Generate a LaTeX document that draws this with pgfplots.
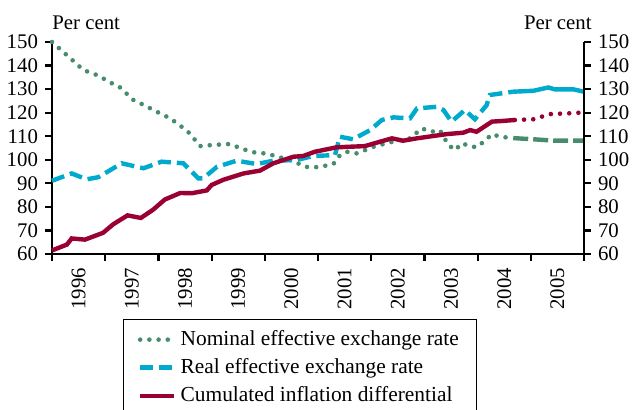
\documentclass[border=0pt]{standalone}
\usepackage{fontspec}
\setmainfont{Liberation Serif}
\usepackage{pgfplots}
\pgfplotsset{compat=1.18}
\definecolor{nomgreen}{RGB}{72,140,110}
\definecolor{realblue}{RGB}{0,170,205}
\definecolor{inflred}{RGB}{155,0,50}

\pgfplotsset{
  base/.style={
    width=266pt, height=106pt, scale only axis,
    xmin=1996, xmax=2006, ymin=60, ymax=150,
    ytick={60,70,...,150},
    tick align=outside,
    major tick length=3.5pt,
    every tick/.style={black, line width=1.1pt},
    axis line style={black, line width=1.3pt},
    tick label style={font=\fontsize{10.4}{12}\selectfont},
    /pgf/number format/assume math mode=true,
  },
  nom/.style={nomgreen, line width=2.3pt, line cap=round, dash pattern=on 0pt off 4.6pt},
  nomf/.style={nomgreen, line width=2.2pt, dash pattern=on 7.5pt off 2.5pt},
  real/.style={realblue, line width=2.2pt, dash pattern=on 6.5pt off 3pt},
  realf/.style={realblue, line width=2.2pt},
  infl/.style={inflred, line width=2.2pt},
  inflf/.style={inflred, line width=2.3pt, line cap=round, dash pattern=on 0pt off 4.6pt},
}

\begin{document}
\begin{tikzpicture}
\useasboundingbox (-26pt,-78pt) rectangle (290pt,127pt);
\begin{axis}[base,
  axis x line*=bottom, axis y line*=left,
  xtick={1996,1997,1998,1999,2000,2001,2002,2003,2004,2005,2006},
  x tick label as interval,
  xticklabels={1996,1997,1998,1999,2000,2001,2002,2003,2004,2005},
  xticklabel style={rotate=90, anchor=east},
  legend cell align=left,
  legend style={at={(rel axis cs:0.134,0)}, anchor=north west, yshift=-32.5pt,
    draw=black, line width=0.6pt, font=\fontsize{10.7}{12}\selectfont, row sep=1pt,
    inner xsep=7pt, inner ysep=3.5pt,
    column 2/.style={nodes={text width=150pt, align=left}}},
  clip=false,
]
% nominal effective exchange rate
\addplot[nom] coordinates {
(1996.00,150.0) (1996.31,143.8) (1996.59,138.1) (1996.90,135.5) (1997.06,133.1)
(1997.25,131.3) (1997.53,125.4) (1997.72,123.3) (1997.97,120.4) (1998.22,117.6)
(1998.41,114.5) (1998.59,111.2) (1998.78,105.8) (1999.03,106.3) (1999.35,106.7)
(1999.53,105.0) (1999.78,103.2) (2000.04,102.6) (2000.29,101.0) (2000.54,99.4)
(2000.76,97.0) (2000.94,96.8) (2001.10,97.3) (2001.29,98.2) (2001.38,101.3)
(2001.54,103.4) (2001.73,102.7) (2002.04,105.5) (2002.35,107.4) (2002.73,109.1)
(2002.95,113.3) (2003.14,111.9) (2003.29,112.6) (2003.45,106.3) (2003.58,104.1)
(2003.70,107.0) (2003.86,105.8) (2003.98,105.3) (2004.14,108.1) (2004.27,110.9)
(2004.42,109.8) (2004.67,109.2)
};
\addlegendentry{Nominal effective exchange rate}
% real effective exchange rate
\addplot[real] coordinates {
(1996.00,91.1) (1996.37,94.2) (1996.65,91.7) (1996.87,92.6) (1997.31,98.5)
(1997.72,96.4) (1998.06,99.2) (1998.47,98.5) (1998.75,92.1) (1998.84,92.1)
(1999.10,97.0) (1999.47,99.6) (1999.85,98.2) (2000.16,99.6) (2000.60,99.9)
(2000.91,101.6) (2001.32,102.0) (2001.41,109.8) (2001.66,108.7) (2001.98,112.6)
(2002.20,116.9) (2002.42,118.0) (2002.73,117.6) (2002.86,121.8) (2003.23,122.5)
(2003.36,121.1) (2003.51,116.2) (2003.76,121.1) (2003.95,117.2) (2004.17,123.2)
(2004.23,127.5) (2004.67,128.9)
};
\addlegendentry{Real effective exchange rate}
% cumulated inflation differential
\addplot[infl] coordinates {
(1996.00,61.5) (1996.28,64.0) (1996.37,66.6) (1996.62,66.1) (1996.96,69.0)
(1997.15,72.6) (1997.42,76.4) (1997.67,75.3) (1997.90,78.8) (1998.12,83.1)
(1998.41,85.9) (1998.63,85.8) (1998.91,87.0) (1999.00,89.3) (1999.22,91.5)
(1999.60,94.2) (1999.91,95.4) (2000.16,98.5) (2000.54,101.3) (2000.72,101.6)
(2000.94,103.4) (2001.35,105.3) (2001.88,105.8) (2002.17,107.7) (2002.39,109.1)
(2002.60,108.1) (2002.86,109.1) (2003.42,110.9) (2003.73,111.5) (2003.86,112.6)
(2003.98,111.9) (2004.27,116.2) (2004.48,116.5) (2004.70,116.9)
};
\addlegendentry{Cumulated inflation differential}
% projections
\addplot[nomf, forget plot] coordinates {
(2004.67,109.2) (2005.05,108.7) (2005.45,108.1) (2006.00,108.1)
};
\addplot[realf, forget plot] coordinates {
(2004.67,128.9) (2005.05,129.3) (2005.33,130.7) (2005.45,129.9) (2005.80,129.9) (2006.00,128.9)
};
\addplot[inflf, forget plot] coordinates {
(2004.70,116.9) (2005.05,117.2) (2005.36,119.4) (2005.70,119.7) (2006.00,120.1)
};
\node[anchor=base west, inner sep=0pt, font=\fontsize{10.4}{12}\selectfont]
  at (rel axis cs:0,1) [yshift=6.5pt] {Per cent};
\node[anchor=base east, inner sep=0pt, font=\fontsize{10.4}{12}\selectfont]
  at (rel axis cs:1,1) [yshift=6.5pt, xshift=4pt] {Per cent};
\end{axis}
\begin{axis}[base,
  axis x line=none, axis y line*=right,
  yticklabel pos=right,
]
\end{axis}
\end{tikzpicture}
\end{document}
